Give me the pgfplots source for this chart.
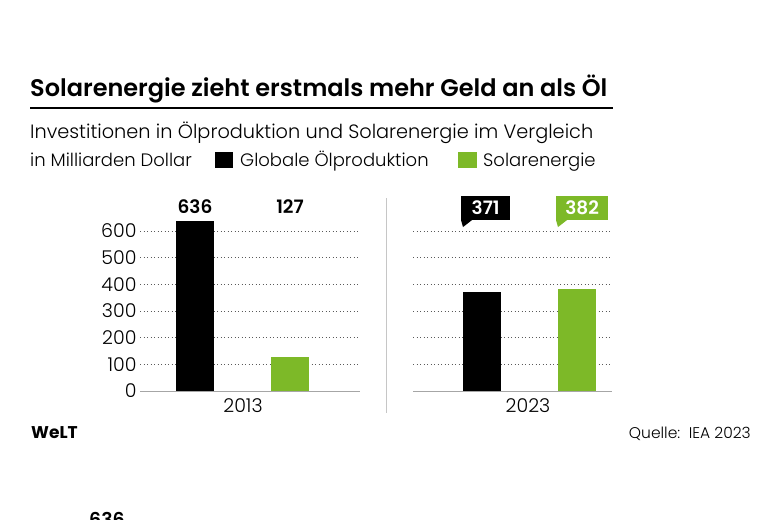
\documentclass[border=0pt]{standalone}
\usepackage{fontspec}
\setmainfont{Poppins}[UprightFont=* Light, BoldFont=* SemiBold]
\newfontfamily\heavyfont{Poppins}[UprightFont=* Bold]
\usepackage{pgfplots}
\pgfplotsset{compat=1.18}
\definecolor{solgreen}{RGB}{125,185,40}
\definecolor{gridc}{RGB}{90,90,90}
\begin{document}
\begin{tikzpicture}[x=1pt,y=1pt]
\useasboundingbox (0,0) rectangle (780,-520);
\node[anchor=base west, inner sep=0, font=\bfseries\fontsize{24}{28}\selectfont] at (30,-96) {Solarenergie zieht erstmals mehr Geld an als Öl};
\draw[line width=2.5pt] (30,-108) -- (613,-108);
\node[anchor=base west, inner sep=0, font=\fontsize{19.3}{22}\selectfont] at (30,-138) {Investitionen in Ölproduktion und Solarenergie im Vergleich};
\node[anchor=base west, inner sep=0, font=\fontsize{18}{20}\selectfont] at (30,-166) {in Milliarden Dollar};
\fill[black] (215,-152) rectangle (233,-168);
\node[anchor=base west, inner sep=0, font=\fontsize{18}{20}\selectfont] at (240,-166) {Globale Ölproduktion};
\fill[solgreen] (458,-152) rectangle (477,-168);
\node[anchor=base west, inner sep=0, font=\fontsize{18}{20}\selectfont] at (483,-166) {Solarenergie};
\draw[gray!45, line width=1pt] (386,-198) -- (386,-413);

\pgfplotsset{panel/.style={
  scale only axis, height=208pt, ymin=0, ymax=780, clip=false,
  axis x line=bottom, axis y line=left, axis line style={-},
  y axis line style={draw=none}, x axis line style={draw=gray!70, line width=1pt},
  major tick length=0pt, ytick={0,100,...,600},
  ymajorgrids, grid style={gridc, line width=0.8pt, dash pattern=on 0.9pt off 2.6pt},
  tick label style={font=\fontsize{19}{22}\selectfont},
  /pgf/number format/assume math mode=true,
  xticklabel style={yshift=-4pt},
}}

\begin{axis}[panel, at={(140pt,-391pt)}, anchor=south west, width=220pt,
  xmin=0, xmax=220, xtick={103}, xticklabels={2013}]
\addplot[ybar, bar width=38, bar shift=0pt, fill=black, draw=none] coordinates {(55,636)};
\addplot[ybar, bar width=38, bar shift=0pt, fill=solgreen, draw=none] coordinates {(150,127)};
\node[font=\bfseries\fontsize{18.5}{20}\selectfont] at (axis cs:55,690) {636};
\node[font=\bfseries\fontsize{18.5}{20}\selectfont] at (axis cs:150,690) {127};
\end{axis}

\begin{axis}[panel, at={(413pt,-391pt)}, anchor=south west, width=199pt,
  xmin=0, xmax=199, xtick={115}, xticklabels={2023}, yticklabels={}]
\addplot[ybar, bar width=38, bar shift=0pt, fill=black, draw=none] coordinates {(69,371)};
\addplot[ybar, bar width=38, bar shift=0pt, fill=solgreen, draw=none] coordinates {(164,382)};
\node[fill=black, text=white, font=\bfseries\fontsize{18.5}{20}\selectfont, minimum width=49pt, minimum height=24pt, inner sep=0, anchor=south west] (c1) at (axis cs:48,641) {371};
\fill[black] (c1.south west) -- ++(2pt,-7pt) -- ++(9pt,7pt) -- cycle;
\node[fill=solgreen, text=white, font=\bfseries\fontsize{18.5}{20}\selectfont, minimum width=52pt, minimum height=24pt, inner sep=0, anchor=south west] (c2) at (axis cs:143,641) {382};
\fill[solgreen] (c2.south west) -- ++(2pt,-7pt) -- ++(9pt,7pt) -- cycle;
\end{axis}

\node[anchor=base west, inner sep=0, font=\heavyfont\fontsize{17}{18}\selectfont] at (31,-438) {WeLT};
\node[anchor=base east, inner sep=0, font=\fontsize{15.5}{18}\selectfont] at (751,-438) {Quelle:\ \ IEA 2023};
\node[anchor=base west, inner sep=0, font=\bfseries\fontsize{19}{20}\selectfont] at (89,-526) {636};
\end{tikzpicture}
\end{document}
